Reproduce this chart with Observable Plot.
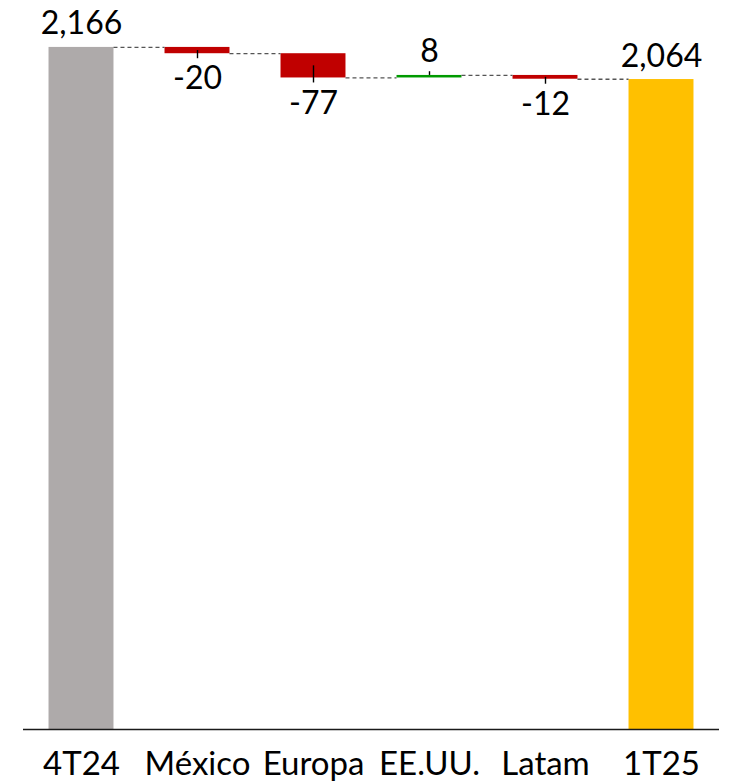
<!DOCTYPE html>
<html>
<head>
<meta charset="utf-8">
<script src="https://cdn.jsdelivr.net/npm/d3@7"></script>
<script src="https://cdn.jsdelivr.net/npm/@observablehq/plot@0.6"></script>
<style>
  html, body { margin: 0; padding: 0; background: #fff; }
  svg { display: block; }
</style>
</head>
<body>
<div id="chart"></div>
<script>
const categories = ["4T24", "México", "Europa", "EE.UU.", "Latam", "1T25"];
const values = [2166, -20, -77, 8, -12, 2064];
const kinds = ["total", "delta", "delta", "delta", "delta", "total"];

const colors = { start: "#AEAAAA", end: "#FFC000", neg: "#C00000", pos: "#009A00" };
const fmt = v => d3.format(",")(v).replace("\u2212", "-");

// Build waterfall rows
let run = 0;
const rows = categories.map((c, i) => {
  let y1, y2, fill;
  if (kinds[i] === "total") {
    y1 = 0; y2 = values[i]; run = values[i];
    fill = i === 0 ? colors.start : colors.end;
  } else {
    y1 = run; y2 = run + values[i]; run = y2;
    fill = values[i] < 0 ? colors.neg : colors.pos;
  }
  return { i, cat: c, v: values[i], kind: kinds[i], y1, y2, top: Math.max(y1, y2), bottom: Math.min(y1, y2), mid: (y1 + y2) / 2, fill, label: fmt(values[i]) };
});
const half = 0.28;
const connectors = rows.slice(0, -1).map((r, k) => ({ x1: r.i + half, x2: rows[k + 1].i - half, y: r.y2 }));

const up = rows.filter(r => r.kind === "total" || r.v > 0);
const down = rows.filter(r => r.kind !== "total" && r.v < 0);
const deltasNeg = rows.filter(r => r.kind === "delta" && r.v < 0);
const deltasPos = rows.filter(r => r.kind === "delta" && r.v > 0);

const chart = Plot.plot({
  width: 734,
  height: 781,
  marginLeft: 23,
  marginRight: 15,
  marginTop: 0,
  marginBottom: 52,
  style: { fontFamily: "Lato, 'Open Sans', sans-serif", fontSize: "32px", color: "#000", background: "#fff" },
  x: { type: "linear", domain: [-0.5, 5.5], axis: null },
  y: { domain: [0, 2315], axis: null },
  marks: [
    Plot.rect(rows, { x1: d => d.i - half, x2: d => d.i + half, y1: "y1", y2: "y2", fill: "fill" }),
    Plot.ruleY(connectors, { x1: "x1", x2: "x2", y: "y", stroke: "#555", strokeWidth: 1.3, strokeDasharray: "4,3" }),
    Plot.ruleX(deltasNeg, { x: "i", y1: "mid", y2: "y2", stroke: "#000", strokeWidth: 1.4, insetBottom: -5 }),
    Plot.ruleX(deltasPos, { x: "i", y1: "mid", y2: "y2", stroke: "#000", strokeWidth: 1.4, insetTop: -5 }),
    Plot.text(up, { x: "i", y: "top", text: "label", lineAnchor: "bottom", dy: -13, fontSize: 32, fill: "#000" }),
    Plot.text(down, { x: "i", y: "bottom", text: "label", lineAnchor: "top", dy: 13, fontSize: 32, fill: "#000" }),
    Plot.ruleY([0], { stroke: "#1a1a1a", strokeWidth: 1.6 }),
    Plot.axisX({ ticks: d3.range(categories.length), tickFormat: i => categories[i], tickSize: 0, tickPadding: 22, fontSize: 33, fill: "#000" })
  ]
});
document.getElementById("chart").appendChild(chart);
</script>
</body>
</html>
